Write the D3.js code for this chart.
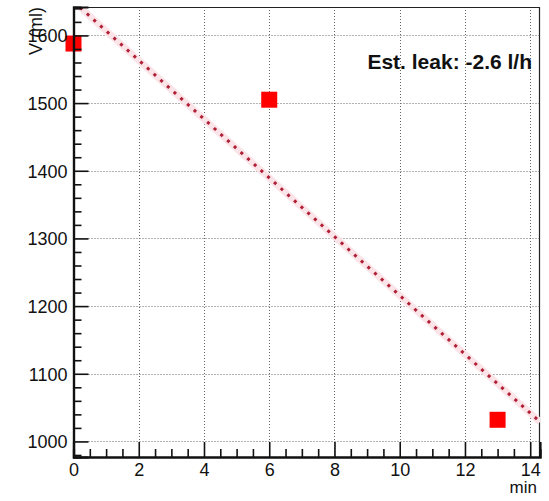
<!DOCTYPE html>
<html>
<head>
<meta charset="utf-8">
<script src="https://cdn.jsdelivr.net/npm/d3@7"></script>
<style>
  html, body { margin: 0; padding: 0; background: #fff; }
  svg { display: block; font-family: "Liberation Sans", Arial, Helvetica, sans-serif; }
</style>
</head>
<body>
<svg id="chart" width="549" height="501"></svg>
<script>
// Measured volume over time
const timesMin = [0, 6, 13];
const volumesMl = [1588, 1505, 1032];

// Axis ranges and tick values
const xDomain = [0, 14.3];
const yDomain = [977, 1642];
const xMajorTicks = [0, 2, 4, 6, 8, 10, 12, 14];
const yMajorTicks = [1000, 1100, 1200, 1300, 1400, 1500, 1600];
const xMinorStep = 0.5;
const yMinorStep = 20;

const xTitle = "min";
const yTitle = "V (ml)";

// Least-squares linear fit of volume vs time
const n = timesMin.length;
const mx = d3.mean(timesMin), my = d3.mean(volumesMl);
let sxy = 0, sxx = 0;
for (let i = 0; i < n; i++) {
  sxy += (timesMin[i] - mx) * (volumesMl[i] - my);
  sxx += (timesMin[i] - mx) ** 2;
}
const slope = sxy / sxx;              // ml per minute
const intercept = my - slope * mx;
const leakLph = slope * 60 / 1000;    // litres per hour
const leakLabel = "Est. leak: " + leakLph.toFixed(1) + " l/h";

const frame = { left: 73.5, right: 540, top: 7, bottom: 457 };
const svg = d3.select("#chart");

const x = d3.scaleLinear().domain(xDomain).range([frame.left, frame.right]);
const y = d3.scaleLinear().domain(yDomain).range([frame.bottom, frame.top]);

svg.append("defs").append("clipPath").attr("id", "plotclip")
  .append("rect")
  .attr("x", frame.left).attr("y", frame.top)
  .attr("width", frame.right - frame.left).attr("height", frame.bottom - frame.top);

// Dotted grid at major ticks
const grid = svg.append("g").attr("stroke", "#666").attr("stroke-width", 1)
  .attr("stroke-dasharray", "1,2");
grid.selectAll("line.gx").data(xMajorTicks.filter(t => t > xDomain[0])).join("line")
  .attr("x1", d => Math.round(x(d)) + 0.5).attr("x2", d => Math.round(x(d)) + 0.5)
  .attr("y1", frame.top).attr("y2", frame.bottom);
grid.selectAll("line.gy").data(yMajorTicks).join("line")
  .attr("y1", d => Math.round(y(d)) + 0.5).attr("y2", d => Math.round(y(d)) + 0.5)
  .attr("x1", frame.left).attr("x2", frame.right);

// Frame top and right
svg.append("path")
  .attr("d", `M${frame.left},${frame.top + 0.5}H${frame.right - 0.5}V${frame.bottom}`)
  .attr("fill", "none").attr("stroke", "#222").attr("stroke-width", 1.2);

// Fit line
const fitX = [xDomain[0], xDomain[1]];
const fitLine = d3.line().x(d => x(d)).y(d => y(intercept + slope * d));
const plot = svg.append("g").attr("clip-path", "url(#plotclip)");
plot.append("path").datum(fitX).attr("d", fitLine)
  .attr("fill", "none").attr("stroke", "#fbe4e8").attr("stroke-width", 7);
plot.append("path").datum(fitX).attr("d", fitLine)
  .attr("fill", "none").attr("stroke", "#b01f35").attr("stroke-width", 3)
  .attr("stroke-dasharray", "3,6");

// Data markers
const ms = 16;
svg.append("g").selectAll("rect").data(timesMin.map((t, i) => [t, volumesMl[i]])).join("rect")
  .attr("x", d => x(d[0]) - ms / 2).attr("y", d => y(d[1]) - ms / 2)
  .attr("width", ms).attr("height", ms).attr("fill", "#f00");

// Axes (ticks point into the plot)
const xMinor = d3.range(xDomain[0], xDomain[1] + 1e-9, xMinorStep).filter(v => !xMajorTicks.includes(v));
const yMinor = d3.range(980, yDomain[1], yMinorStep).filter(v => !yMajorTicks.includes(v));

const xAxis = svg.append("g").attr("transform", `translate(0,${frame.bottom})`);
xAxis.call(d3.axisBottom(x).tickValues(xMajorTicks).tickSize(-15).tickPadding(0).tickFormat(d3.format("d")));
xAxis.append("g").call(d3.axisBottom(x).tickValues(xMinor).tickSize(-8).tickFormat(""));
const yAxis = svg.append("g").attr("transform", `translate(${frame.left},0)`);
yAxis.call(d3.axisLeft(y).tickValues(yMajorTicks).tickSize(-15).tickPadding(0).tickFormat(d3.format("d")));
yAxis.append("g").call(d3.axisLeft(y).tickValues(yMinor).tickSize(-8).tickFormat(""));

svg.selectAll(".domain").attr("stroke", "#111").attr("stroke-width", 2.2);
svg.selectAll(".tick line").attr("stroke", "#111").attr("stroke-width", 1.6);
xAxis.selectAll(".tick text").attr("font-size", 18).attr("fill", "#111")
  .attr("font-family", null).attr("dy", null).attr("y", 19);
yAxis.selectAll(".tick text").attr("font-size", 18).attr("fill", "#111")
  .attr("font-family", null).attr("x", -6).attr("dy", "0.35em");
svg.selectAll(".domain").raise();

// Axis titles
svg.append("text").attr("x", 537).attr("y", 493).attr("text-anchor", "end")
  .attr("font-size", 17).attr("fill", "#111").text(xTitle);
svg.append("text").attr("transform", "translate(42,7) rotate(-90)")
  .attr("text-anchor", "end").attr("font-size", 18).attr("fill", "#111").text(yTitle);

// Leak estimate label
svg.append("text").attr("x", 532).attr("y", 69).attr("text-anchor", "end")
  .attr("font-size", 21).attr("font-weight", "bold").attr("fill", "#111").text(leakLabel);
</script>
</body>
</html>
